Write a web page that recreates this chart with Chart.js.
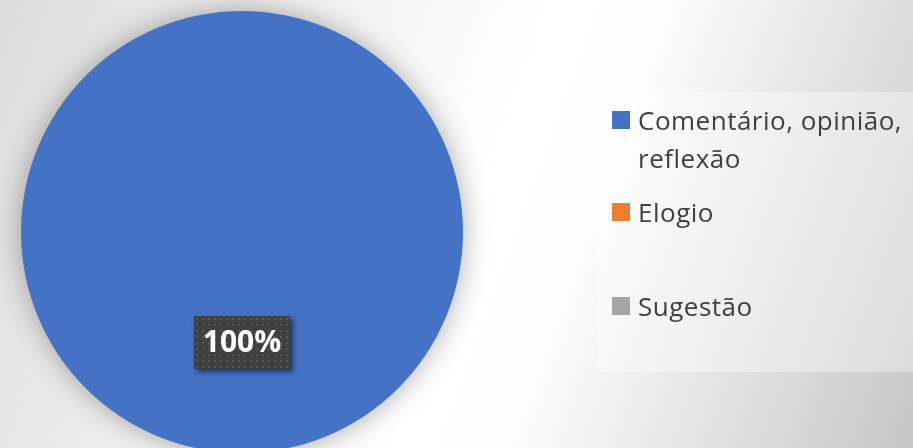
<!DOCTYPE html>
<html>
<head>
<meta charset="utf-8">
<script src="https://cdn.jsdelivr.net/npm/chart.js@4.4.1/dist/chart.umd.min.js"></script>
<style>
  html, body { margin: 0; padding: 0; }
  body {
    width: 913px; height: 448px; overflow: hidden; position: relative;
    background: linear-gradient(110deg, #dcdcdc 0%, #f4f4f4 35%, #ffffff 52%, #fdfdfd 62%, #c6c6c6 100%);
    font-family: "Open Sans", sans-serif;
  }
  #wrap { position: absolute; left: 0; top: 0; width: 913px; height: 460px; }
  #legendBox {
    position: absolute; left: 597px; top: 92px; width: 316px; height: 280px;
    background: rgba(255, 255, 255, 0.35);
  }
  .item { position: absolute; left: 15px; color: #404040; font-size: 26px; line-height: 38px; letter-spacing: 0.5px; }
  .item .sw { position: absolute; left: 0; top: 10px; width: 18px; height: 18px; }
  .item .tx { position: absolute; left: 26px; top: 0; width: 285px; }
</style>
</head>
<body>
<div id="wrap"><canvas id="pie" width="913" height="460"></canvas></div>
<div id="legendBox"></div>
<script>
// series data
const categories = ['Comentário, opinião, reflexão', 'Elogio', 'Sugestão'];
const values = [1, 0, 0];
const colors = ['#4472C4', '#ED7D31', '#A5A5A5'];

// shadow behind the pie
const pieShadow = {
  id: 'pieShadow',
  beforeDatasetsDraw(chart) {
    const ctx = chart.ctx;
    ctx.save();
    ctx.shadowColor = 'rgba(0,0,0,0.32)';
    ctx.shadowBlur = 28;
  },
  afterDatasetsDraw(chart) {
    chart.ctx.restore();
  }
};

// percentage label in a dark dotted box
const pctLabels = {
  id: 'pctLabels',
  afterDatasetsDraw(chart) {
    const ctx = chart.ctx;
    const meta = chart.getDatasetMeta(0);
    const data = chart.data.datasets[0].data;
    const total = data.reduce((a, b) => a + b, 0);
    const pc = document.createElement('canvas');
    pc.width = 6; pc.height = 6;
    const pctx = pc.getContext('2d');
    pctx.fillStyle = '#404040';
    pctx.fillRect(0, 0, 6, 6);
    pctx.fillStyle = '#585858';
    pctx.fillRect(2, 2, 2, 2);
    const pattern = ctx.createPattern(pc, 'repeat');
    meta.data.forEach((arc, i) => {
      if (!data[i]) return;
      const p = arc.tooltipPosition();
      const txt = Math.round(data[i] / total * 100) + '%';
      const w = 96, h = 53;
      const x = Math.round(p.x - w / 2), y = Math.round(p.y - h / 2);
      ctx.save();
      ctx.shadowColor = 'rgba(0,0,0,0.55)';
      ctx.shadowBlur = 5;
      ctx.shadowOffsetX = 3;
      ctx.shadowOffsetY = 3;
      ctx.fillStyle = '#404040';
      ctx.fillRect(x, y, w, h);
      ctx.restore();
      ctx.save();
      ctx.translate(x, y);
      ctx.fillStyle = pattern;
      ctx.fillRect(0, 0, w, h);
      ctx.restore();
      ctx.save();
      ctx.fillStyle = '#ffffff';
      ctx.font = 'bold 30px "Open Sans"';
      ctx.textAlign = 'center';
      ctx.textBaseline = 'middle';
      ctx.fillText(txt, p.x, p.y + 1);
      ctx.restore();
    });
  }
};

const chart = new Chart(document.getElementById('pie'), {
  type: 'pie',
  data: {
    labels: categories,
    datasets: [{
      data: values,
      backgroundColor: colors,
      borderWidth: 0,
      hoverOffset: 0,
      offset: 0
    }]
  },
  options: {
    responsive: false,
    animation: false,
    events: [],
    layout: { padding: { left: 21, top: 11, right: 450, bottom: 7 } },
    plugins: { legend: { display: false }, tooltip: { enabled: false } }
  },
  plugins: [pieShadow, pctLabels]
});

// legend built from the chart data
const itemTops = [9, 101, 195];
const box = document.getElementById('legendBox');
chart.data.labels.forEach((lab, i) => {
  const it = document.createElement('div');
  it.className = 'item';
  it.style.top = itemTops[i] + 'px';
  it.innerHTML = '<div class="sw" style="background:' + colors[i] + '"></div><div class="tx">' + lab + '</div>';
  box.appendChild(it);
});
</script>
</body>
</html>
